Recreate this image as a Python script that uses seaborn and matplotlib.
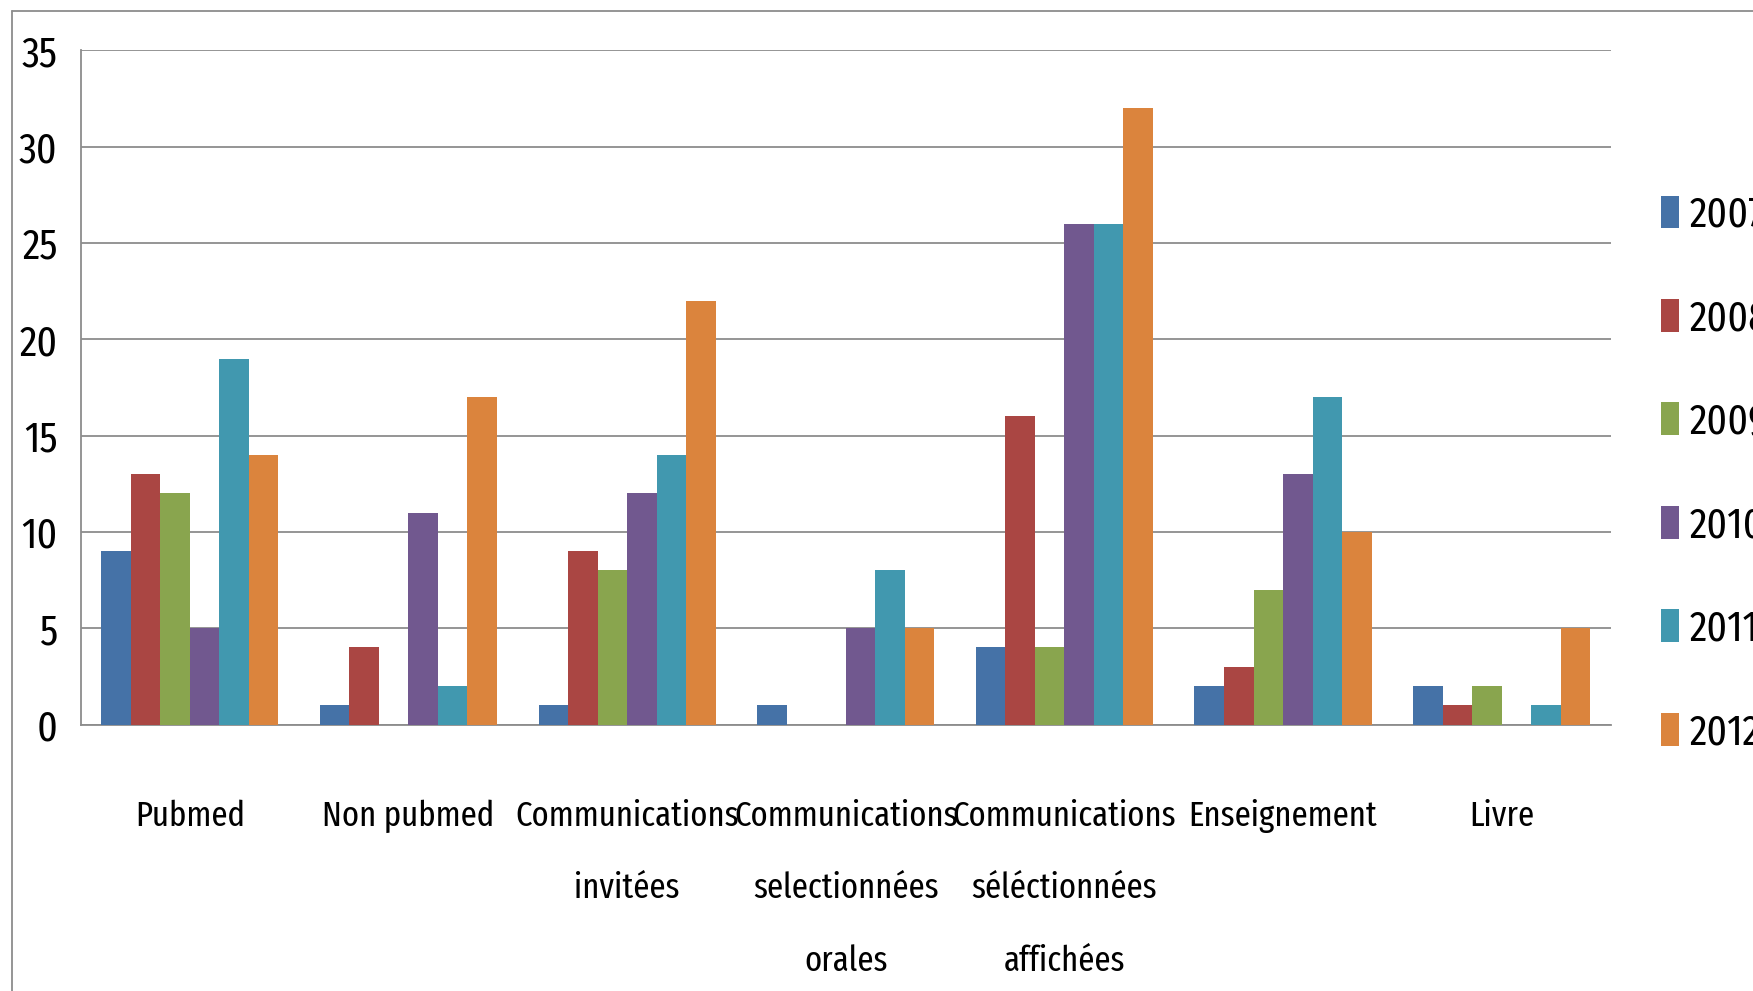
import matplotlib
matplotlib.use("Agg")
import matplotlib.pyplot as plt
from matplotlib.patches import Patch
from matplotlib.lines import Line2D
import seaborn as sns
import pandas as pd
import numpy as np

categories = [
    "Pubmed",
    "Non pubmed",
    "Communications\ninvitées",
    "Communications\nselectionnées\norales",
    "Communications\nséléctionnées\naffichées",
    "Enseignement",
    "Livre",
]
years = ["2007", "2008", "2009", "2010", "2011", "2012"]

v2007 = [9, 1, 1, 1, 4, 2, 2]
v2008 = [13, 4, 9, 0, 16, 3, 1]
v2009 = [12, 0, 8, 0, 4, 7, 2]
v2010 = [5, 11, 12, 5, 26, 13, 0]
v2011 = [19, 2, 14, 8, 26, 17, 1]
v2012 = [14, 17, 22, 5, 32, 10, 5]

colors = ["#4572A7", "#AA4643", "#89A54E", "#71588F", "#4198AF", "#DB843D"]
y_ticks = [0, 5, 10, 15, 20, 25, 30, 35]

series = [v2007, v2008, v2009, v2010, v2011, v2012]
df = pd.DataFrame(
    [(c, y, v) for y, vals in zip(years, series) for c, v in zip(categories, vals)],
    columns=["categorie", "annee", "valeur"],
)

sns.set_theme(style="white")
plt.rcParams["font.family"] = ["Fira Sans Extra Condensed", "DejaVu Sans"]
plt.rcParams["text.color"] = "black"
plt.rcParams["xtick.labelcolor"] = "black"
plt.rcParams["ytick.labelcolor"] = "black"

grid_col = "#8c8c8c"
fig = plt.figure(figsize=(17.53, 9.91), dpi=100)
ax = fig.add_axes([80.5 / 1753, 1 - 724.5 / 991, (1611 - 80.5) / 1753, (724.5 - 50.3) / 991])

sns.barplot(
    data=df, x="categorie", y="valeur", hue="annee",
    order=categories, hue_order=years, palette=colors,
    saturation=1, width=0.81, dodge=True, legend=False, ax=ax,
    linewidth=0, edgecolor="none", zorder=3,
)

ax.set_ylim(0, 35)
ax.set_xlim(-0.5, len(categories) - 0.5)
ax.set_yticks(y_ticks)
ax.set_yticklabels([str(t) for t in y_ticks], fontsize=31)
ax.yaxis.grid(True, color=grid_col, linewidth=1.3, zorder=0)
ax.xaxis.grid(False)
ax.set_axisbelow(True)
ax.set_xlabel("")
ax.set_ylabel("")

ax.set_xticks(range(len(categories)))
ax.set_xticklabels(categories, fontsize=25.5, linespacing=2.43, va="top")
ax.set_xticks(np.arange(-0.5, len(categories), 1.0), minor=True)
ax.tick_params(axis="x", which="major", length=0, pad=54)
ax.tick_params(axis="x", which="minor", length=10.5, width=1.2, color=grid_col, direction="out")
ax.tick_params(axis="y", length=7.5, width=1.2, color=grid_col, direction="out", pad=9)

for side in ["top", "right"]:
    ax.spines[side].set_visible(False)
for side in ["left", "bottom"]:
    ax.spines[side].set_color(grid_col)
    ax.spines[side].set_linewidth(1.3)

handles = [Patch(facecolor=c, edgecolor="none") for c in colors]
fig.legend(
    handles, years, loc="upper left", bbox_to_anchor=(1661 / 1753, 1 - 195 / 991),
    frameon=False, fontsize=31, handlelength=0.42, handleheight=0.8,
    handletextpad=0.25, labelspacing=1.45, borderaxespad=0, borderpad=0,
)

# outer chart border (left and top edges)
fig.add_artist(Line2D([12 / 1753, 12 / 1753], [0, 1 - 11 / 991], transform=fig.transFigure,
                      color=grid_col, linewidth=1.3))
fig.add_artist(Line2D([12 / 1753, 1], [1 - 11 / 991, 1 - 11 / 991], transform=fig.transFigure,
                      color=grid_col, linewidth=1.3))

fig.savefig("out.png", dpi=100)
